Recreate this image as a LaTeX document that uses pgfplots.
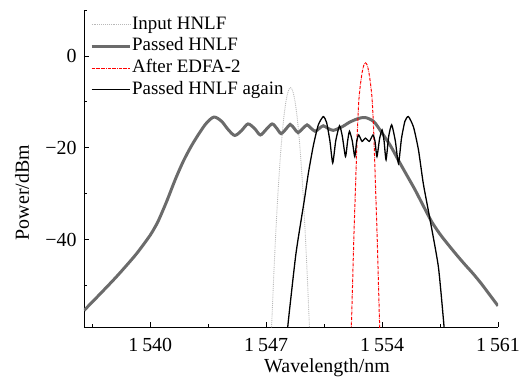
\documentclass[border=0pt]{standalone}
\usepackage{pgfplots}
\pgfplotsset{compat=1.18}
\usepackage{fontspec}
\setmainfont{Liberation Serif}
\begin{document}
\begin{tikzpicture}
\begin{axis}[
  at={(0,0)}, anchor=south west,
  scale only axis, width=414bp, height=317bp,
  xmin=1536, xmax=1561, ymin=-59, ymax=10,
  axis x line*=bottom, axis y line*=left,
  axis line style={-, line width=0.9pt},
  tick align=inside,
  major tick length=5bp, minor tick length=3bp,
  every tick/.style={black, line width=0.8pt},
  xtick={1540,1547,1554,1561},
  xticklabels={1\hspace{0.2em}540,1\hspace{0.2em}547,1\hspace{0.2em}554,1\hspace{0.2em}561},
  minor xtick={1536.5,1543.5,1550.5,1557.5},
  ytick={-40,-20,0},
  yticklabels={−40,−20,0},
  minor ytick={-50,-30,-10,10},
  ticklabel style={font=\fontsize{20}{24}\selectfont},
  xticklabel style={yshift=-8bp},
  yticklabel style={xshift=-4bp},
  xlabel={Wavelength/nm},
  ylabel={Power/dBm},
  every axis x label/.style={at={(axis description cs:0.587,-0.129)}, anchor=center, font=\fontsize{20}{24}\selectfont},
  every axis y label/.style={at={(axis description cs:-0.1498,0.424)}, rotate=90, anchor=center, font=\fontsize{20}{24}\selectfont},
  clip=true,
  legend style={draw=none, fill=none, at={(axis description cs:0.0145,1.0)}, anchor=north west, yshift=-5bp,
    inner sep=0pt, row sep=2.7bp, font=\fontsize{19}{21}\selectfont,
    nodes={inner sep=1bp, text height=13bp, text depth=4bp, anchor=west}},
  legend cell align=left,
  legend image code/.code={\draw[#1] (0bp,0bp) -- (38bp,0bp);},
]
% Input HNLF
\addplot[color=black!28, densely dotted, line width=0.9pt, smooth, tension=0.4] coordinates {
(1547.30,-61)(1547.37,-55.3)(1547.47,-46.9)(1547.57,-39.3)(1547.67,-32.5)(1547.77,-26.5)
(1547.87,-21.3)(1547.97,-16.9)(1548.07,-13.3)(1548.17,-10.5)(1548.27,-8.5)(1548.37,-7.3)
(1548.47,-6.9)(1548.57,-7.3)(1548.67,-8.5)(1548.77,-10.5)(1548.87,-13.3)(1548.97,-16.9)
(1549.07,-21.3)(1549.17,-26.5)(1549.27,-32.5)(1549.37,-39.3)(1549.47,-46.9)(1549.57,-55.3)(1549.64,-61)
};
\addlegendentry{Input HNLF}
% Passed HNLF
\addplot[color=black!58, line width=3pt, smooth, tension=0.5] coordinates {
(1536.0,-55.4)(1537.0,-51.7)(1538.0,-47.9)(1539.0,-43.8)(1539.5,-41.5)
(1540.0,-39.0)(1540.25,-37.5)(1540.5,-35.8)(1541.0,-31.6)(1541.5,-27.0)(1542.0,-22.9)(1542.5,-19.5)
(1543.0,-16.6)(1543.4,-14.6)
(1543.85,-13.3)(1544.3,-14.2)(1544.7,-16.0)(1545.1,-17.3)(1545.5,-16.3)(1545.9,-14.8)
(1546.3,-15.8)(1546.65,-17.2)(1547.0,-16.0)(1547.36,-14.8)(1547.65,-15.8)(1547.9,-16.9)
(1548.2,-15.9)(1548.45,-14.9)(1548.7,-15.8)(1548.93,-16.7)(1549.2,-15.8)(1549.47,-15.0)
(1549.7,-15.7)(1549.96,-16.4)(1550.2,-15.8)(1550.45,-15.2)(1550.75,-15.8)(1551.05,-16.2)
(1551.35,-15.8)(1551.65,-15.3)(1552.0,-14.5)(1552.5,-13.7)(1552.97,-13.4)(1553.5,-14.3)
(1554.0,-16.8)(1554.5,-19.5)(1555.0,-22.8)(1555.5,-26.0)(1556.0,-29.2)(1556.5,-32.7)
(1557.0,-36.1)(1557.5,-38.8)(1558.0,-41.1)(1558.5,-43.3)(1559.0,-45.4)(1559.5,-47.4)
(1560.0,-49.6)(1560.5,-52.0)(1561.0,-54.4)
};
\addlegendentry{Passed HNLF}
% After EDFA-2
\addplot[color=red, densely dashdotted, line width=1pt, smooth, tension=0.4] coordinates {
(1552.13,-61)(1552.2,-52)(1552.3,-39)(1552.4,-28)(1552.5,-17)(1552.6,-9.5)(1552.7,-6)
(1552.8,-3.5)(1552.9,-2.0)(1553.0,-1.5)(1553.1,-2.0)(1553.2,-3.5)(1553.3,-6)(1553.4,-9.5)
(1553.5,-17)(1553.6,-28)(1553.7,-39)(1553.8,-52)(1553.87,-61)
};
\addlegendentry{After EDFA-2}
% Passed HNLF again
\addplot[color=black, line width=1.3pt, smooth, tension=0.35] coordinates {
(1548.27,-61)(1548.33,-58.0)(1548.8,-43.0)(1549.3,-31.5)(1549.55,-25.5)(1549.85,-19.5)
(1550.15,-15.0)(1550.45,-13.2)(1550.65,-14.5)(1550.85,-18.5)(1551.02,-23.3)(1551.2,-18.5)
(1551.43,-15.2)(1551.6,-17.5)(1551.79,-21.9)(1551.92,-18.5)(1552.03,-16.4)(1552.2,-18.5)
(1552.35,-21.9)(1552.47,-18.5)(1552.59,-17.2)(1552.79,-18.6)(1552.99,-17.9)(1553.23,-18.6)
(1553.45,-17.2)(1553.57,-18.5)(1553.69,-21.9)(1553.85,-18.0)(1554.0,-16.1)(1554.12,-18.5)
(1554.24,-22.6)(1554.4,-17.5)(1554.58,-15.0)(1554.8,-18.5)(1554.99,-23.4)(1555.17,-18.0)
(1555.38,-14.2)(1555.59,-13.2)(1555.9,-15.5)(1556.2,-20.5)(1556.49,-27.8)(1556.9,-35.7)
(1557.4,-45.9)(1557.72,-58.0)(1557.78,-61)
};
\addlegendentry{Passed HNLF again}
\end{axis}
\pgfresetboundingbox
\path[use as bounding box] (-84bp,-56bp) rectangle (440bp,327bp);
\end{tikzpicture}
\end{document}
